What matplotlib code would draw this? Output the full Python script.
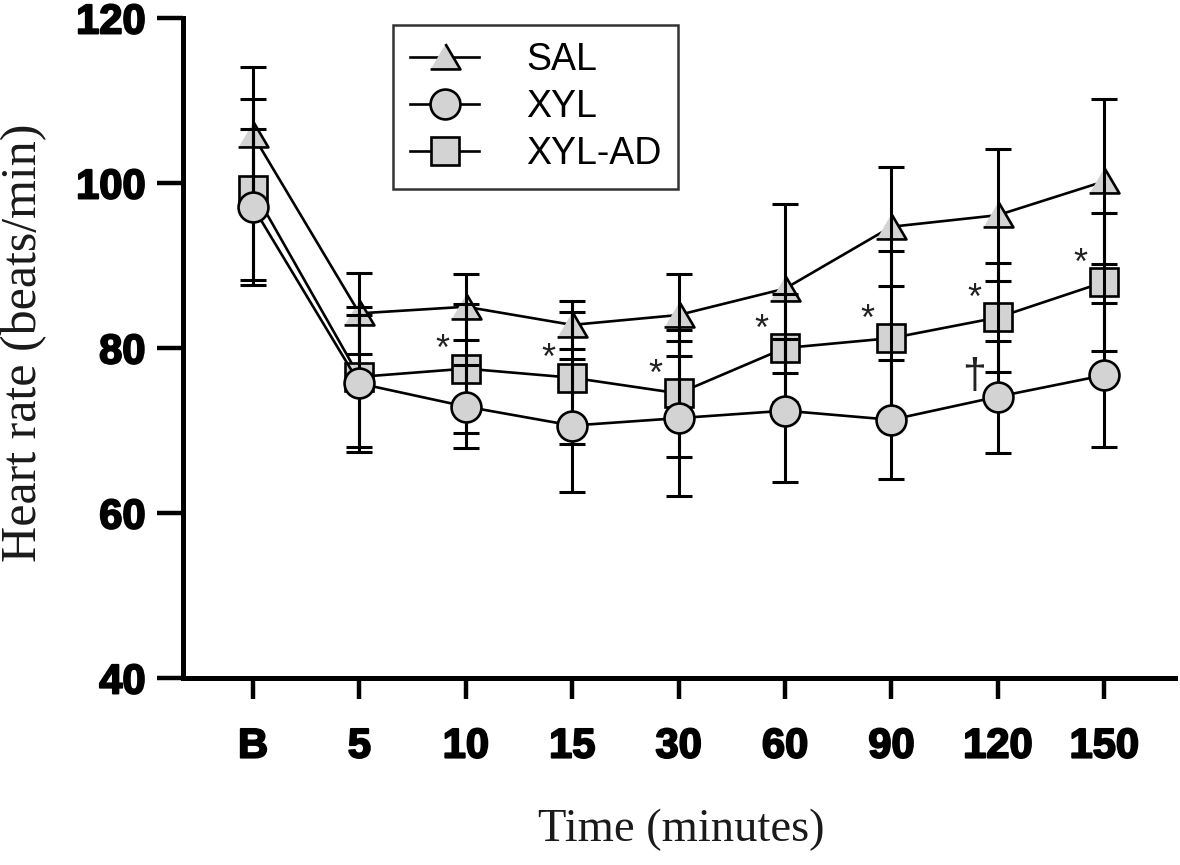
import matplotlib
matplotlib.use("Agg")
import matplotlib.pyplot as plt
import matplotlib.patheffects as pe
import numpy as np

# ---- data ----
time_labels = ["B", "5", "10", "15", "30", "60", "90", "120", "150"]
sal_mean = [105.8, 84.2, 85.0, 82.8, 84.0, 87.2, 94.7, 96.1, 100.2]
sal_err = [8.3, 4.9, 4.0, 2.9, 5.0, 10.2, 7.2, 8.0, 10.0]
xyl_mean = [97.1, 75.7, 72.9, 70.6, 71.5, 72.4, 71.3, 74.1, 76.7]
xyl_err = [9.5, 8.3, 5.0, 8.1, 9.4, 8.7, 7.2, 6.8, 8.7]
xylad_mean = [99.2, 76.5, 77.5, 76.4, 74.5, 80.0, 81.2, 83.7, 88.0]
xylad_err = [11.0, 8.5, 7.8, 8.0, 7.7, 6.5, 10.6, 6.6, 8.4]
star_idx = [2, 3, 4, 5, 6, 7, 8]     # XYL-AD vs XYL significance (*)
dagger_idx = [7]                      # XYL significance (†)

x = np.arange(len(time_labels))

fig = plt.figure(figsize=(11.8, 8.65), dpi=100)
ax = fig.add_axes([183/1180, 1-678/865, (1175-183)/1180, (678-18)/865])

face = "#d3d3d3"
lw = 1.9
ms = 21.5
tri = [(-1, -0.8), (1, -0.8), (0, 0.9)]

eb_kw = dict(fmt="none", ecolor="black", elinewidth=2.2, capsize=9.5,
             capthick=2.2, zorder=3)
for m, e in [(sal_mean, sal_err), (xylad_mean, xylad_err), (xyl_mean, xyl_err)]:
    ax.errorbar(x, m, yerr=e, **eb_kw)

h_sal, = ax.plot(x, sal_mean, color="black", lw=lw, marker=tri, ms=ms,
                 mfc=face, mec="black", mew=lw, zorder=2, label="SAL")
h_ad, = ax.plot(x, xylad_mean, color="black", lw=lw, marker="s", ms=ms*0.95,
                mfc=face, mec="black", mew=lw, zorder=2.5, label="XYL-AD")
h_xyl, = ax.plot(x, xyl_mean, color="black", lw=lw, marker="o", ms=ms,
                 mfc=face, mec="black", mew=lw, zorder=4, label="XYL")

for i in star_idx:
    ax.annotate("*", xy=(x[i], xylad_mean[i]), xytext=(-17, 6),
                textcoords="offset points", ha="center", va="baseline",
                fontsize=26, family="Liberation Sans", color="#222222")
for i in dagger_idx:
    ax.annotate("†", xy=(x[i], xyl_mean[i]), xytext=(-17, 6),
                textcoords="offset points", ha="center", va="baseline",
                fontsize=31, family="Liberation Sans", color="#222222")

ax.set_xlim(-0.658, 8.665)
ax.set_ylim(40, 120)
ax.set_yticks([40, 60, 80, 100, 120])
ax.set_xticks(x)
ax.set_xticklabels(time_labels)

for s in ["top", "right"]:
    ax.spines[s].set_visible(False)
for s in ["left", "bottom"]:
    ax.spines[s].set_linewidth(3.6)

ax.tick_params(axis="y", length=19, width=3.2, pad=8)
ax.tick_params(axis="x", length=15, width=3.2, pad=20)
stroke = [pe.withStroke(linewidth=1.4, foreground="black")]
for lab in ax.get_xticklabels() + ax.get_yticklabels():
    lab.set_fontfamily("Liberation Sans")
    lab.set_fontweight("bold")
    lab.set_fontsize(30)
    lab.set_path_effects(stroke)

fig.text(681/1180, 1-830/865, "Time (minutes)", ha="center", va="center",
         fontsize=33.5, family="Liberation Serif", color="#1a1a1a")
fig.text(24/1180, 1-343/865, "Heart rate (beats/min)", ha="center", va="center",
         rotation=90, fontsize=36, family="Liberation Serif", color="#1a1a1a")

leg = fig.legend(handles=[h_sal, h_xyl, h_ad], loc="upper left",
                 bbox_to_anchor=(393/1180, 1-25/865), bbox_transform=fig.transFigure,
                 borderaxespad=0, frameon=True, fancybox=False,
                 prop={"family": "Liberation Sans", "size": 27},
                 handlelength=1.85, handletextpad=1.25, labelspacing=0.3,
                 borderpad=0.45, markerscale=1.0)
leg.get_frame().set_edgecolor("black")
leg.get_frame().set_linewidth(1.8)

fig.savefig("out.png", dpi=100)
